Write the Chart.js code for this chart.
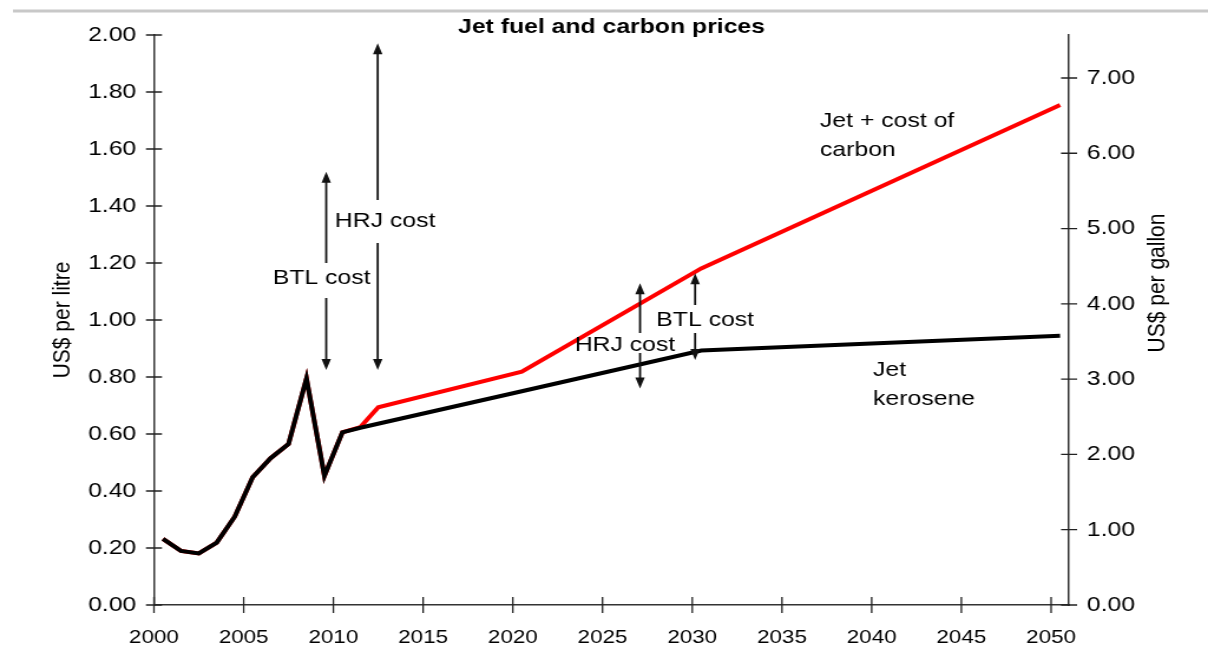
<!DOCTYPE html>
<html><head><meta charset="utf-8">
<script src="https://cdn.jsdelivr.net/npm/chart.js@4"></script>
<style>
html,body{margin:0;padding:0;background:#fff;overflow:hidden;}
#wrap{position:absolute;left:0;top:0;width:1024px;height:652px;transform:scaleX(1.1797);transform-origin:0 0;}
</style></head><body>
<div id="wrap"><canvas id="c"></canvas></div>
<script>
const titleText = 'Jet fuel and carbon prices';
const leftAxisTitle = 'US$ per litre';
const rightAxisTitle = 'US$ per gallon';

// Jet kerosene price, US$ per litre
const kerosYears = [2000,2001,2002,2003,2004,2005,2006,2007,2008,2009,2010,2011,2020,2030,2050];
const kerosPrice = [0.232,0.190,0.181,0.219,0.310,0.448,0.515,0.565,0.795,0.453,0.606,0.622,0.750,0.893,0.945];

// Jet + cost of carbon, US$ per litre
const carbonYears = [2000,2001,2002,2003,2004,2005,2006,2007,2008,2009,2010,2011,2012,2020,2030,2050];
const carbonPrice = [0.232,0.190,0.181,0.219,0.310,0.448,0.515,0.565,0.795,0.453,0.606,0.624,0.694,0.819,1.181,1.754];

// axis ticks
const yearTicks = [2000,2005,2010,2015,2020,2025,2030,2035,2040,2045,2050];
const litreTicks = [0,0.2,0.4,0.6,0.8,1.0,1.2,1.4,1.6,1.8,2.0];
const gallonTicks = [0,1,2,3,4,5,6,7];
const litresPerGallon = 3.785411784;

// cost range arrows (year, low value, high value, label gap low/high), US$ per litre
const arrowYears = [2009.6, 2012.47, 2027.09, 2030.16];
const arrowLow   = [0.825, 0.825, 0.760, 0.860];
const arrowHigh  = [1.520, 1.971, 1.129, 1.164];
const arrowGapLo = [1.077, 1.270, 0.884, 0.954];
const arrowGapHi = [1.200, 1.421, 0.954, 1.053];

// annotation texts
const noteTexts  = [['BTL cost'], ['HRJ cost'], ['HRJ cost'], ['BTL cost'], ['Jet + cost of','carbon'], ['Jet','kerosene']];
const noteYears  = [2009.34, 2012.88, 2026.25, 2030.72, 2037.12, 2040.08];
const noteValues = [1.147, 1.345, 0.912, 1.000, 1.696, 0.825];
const noteAlign  = ['center','center','center','center','left','left'];

const FONT = "'Liberation Sans', Arial, sans-serif";
Chart.defaults.font.family = FONT;
Chart.defaults.color = '#000';

// Excel-style category axis: each year's point sits at the centre of its year slot
const toPts = (xs, ys) => xs.map((yr, i) => ({x: yr + 0.5, y: ys[i]}));

const decor = {
  id: 'decor',
  beforeDraw(chart) {
    const ctx = chart.ctx;
    ctx.save();
    ctx.strokeStyle = '#c8c8c8'; ctx.lineWidth = 3;
    ctx.beginPath(); ctx.moveTo(11, 11); ctx.lineTo(chart.width, 11); ctx.stroke();
    ctx.restore();
  },
  afterDraw(chart) {
    const {ctx, scales: {x, y, y2}, chartArea: ca} = chart;
    ctx.save();
    // crossing tick marks
    ctx.strokeStyle = '#222'; ctx.lineWidth = 1.3;
    ctx.beginPath();
    x.ticks.forEach(t => { const p = x.getPixelForValue(t.value); ctx.moveTo(p, ca.bottom - 8); ctx.lineTo(p, ca.bottom + 8); });
    y.ticks.forEach(t => { const p = y.getPixelForValue(t.value); ctx.moveTo(ca.left - 6.8, p); ctx.lineTo(ca.left + 6.8, p); });
    y2.ticks.forEach(t => { const p = y2.getPixelForValue(t.value); ctx.moveTo(ca.right - 6.8, p); ctx.lineTo(ca.right + 6.8, p); });
    ctx.stroke();

    // arrows
    ctx.strokeStyle = '#111'; ctx.fillStyle = '#111'; ctx.lineWidth = 1.8;
    const head = 11, hw = 4;
    arrowYears.forEach((yr, i) => {
      const px = x.getPixelForValue(yr);
      const top = y.getPixelForValue(arrowHigh[i]);
      const bot = y.getPixelForValue(arrowLow[i]);
      const gTop = y.getPixelForValue(arrowGapHi[i]);
      const gBot = y.getPixelForValue(arrowGapLo[i]);
      ctx.beginPath();
      ctx.moveTo(px, top + head - 1); ctx.lineTo(px, gTop);
      ctx.moveTo(px, gBot); ctx.lineTo(px, bot - head + 1);
      ctx.stroke();
      ctx.beginPath();
      ctx.moveTo(px, top); ctx.lineTo(px - hw, top + head); ctx.lineTo(px + hw, top + head); ctx.closePath();
      ctx.moveTo(px, bot); ctx.lineTo(px - hw, bot - head); ctx.lineTo(px + hw, bot - head); ctx.closePath();
      ctx.fill();
    });

    // notes
    ctx.fillStyle = '#000';
    ctx.font = '21px ' + FONT;
    ctx.textBaseline = 'middle';
    noteTexts.forEach((lines, i) => {
      const px = x.getPixelForValue(noteYears[i]);
      const py = y.getPixelForValue(noteValues[i]);
      ctx.textAlign = noteAlign[i];
      lines.forEach((ln, k) => ctx.fillText(ln, px, py + k * 29));
    });

    // chart title
    ctx.font = 'bold 21px ' + FONT;
    ctx.textAlign = 'center';
    ctx.fillText(titleText, (ca.left + ca.right) / 2, 27);

    // axis titles
    ctx.font = '21px ' + FONT;
    ctx.save();
    ctx.translate(53.4, (ca.top + ca.bottom) / 2);
    ctx.rotate(-Math.PI / 2);
    ctx.fillText(leftAxisTitle, 0, 0);
    ctx.restore();
    ctx.save();
    ctx.translate(981.6, 283);
    ctx.rotate(-Math.PI / 2);
    ctx.fillText(rightAxisTitle, 0, 0);
    ctx.restore();
    ctx.restore();
  }
};

const axisBorder = {display: true, color: '#333', width: 1.5};
const noGrid = {display: false, drawTicks: false};

new Chart(document.getElementById('c'), {
  type: 'line',
  data: {
    datasets: [
      {label: 'Jet kerosene', data: toPts(kerosYears, kerosPrice), borderColor: '#000', borderWidth: 4, pointRadius: 0, tension: 0, yAxisID: 'y'},
      {label: 'Jet + cost of carbon', data: toPts(carbonYears, carbonPrice), borderColor: '#ff0000', borderWidth: 4, pointRadius: 0, tension: 0, yAxisID: 'y'}
    ]
  },
  options: {
    responsive: true,
    maintainAspectRatio: false,
    animation: false,
    layout: {padding: {top: 35, left: 0, right: 0, bottom: 0}},
    plugins: {legend: {display: false}, tooltip: {enabled: false}, title: {display: false}},
    scales: {
      x: {
        type: 'linear', min: 2000, max: 2051,
        grid: noGrid, border: axisBorder,
        afterBuildTicks: s => { s.ticks = yearTicks.map(v => ({value: v})); },
        afterFit: s => { s.height = 47; },
        ticks: {autoSkip: false, maxRotation: 0, padding: 21, font: {size: 19}, color: '#000', callback: v => String(v)}
      },
      y: {
        type: 'linear', position: 'left', min: 0, max: 2,
        grid: noGrid, border: axisBorder,
        afterBuildTicks: s => { s.ticks = litreTicks.map(v => ({value: v})); },
        afterFit: s => { s.width = 130.5; },
        ticks: {padding: 15, font: {size: 21}, color: '#000', callback: v => Number(v).toFixed(2)}
      },
      y2: {
        type: 'linear', position: 'right', min: 0, max: 2 * litresPerGallon,
        grid: noGrid, border: axisBorder,
        afterBuildTicks: s => { s.ticks = gallonTicks.map(v => ({value: v})); },
        afterFit: s => { s.width = 117.8; },
        ticks: {padding: 15, font: {size: 21}, color: '#000', callback: v => Number(v).toFixed(2)}
      }
    }
  },
  plugins: [decor]
});
</script>
</body></html>
